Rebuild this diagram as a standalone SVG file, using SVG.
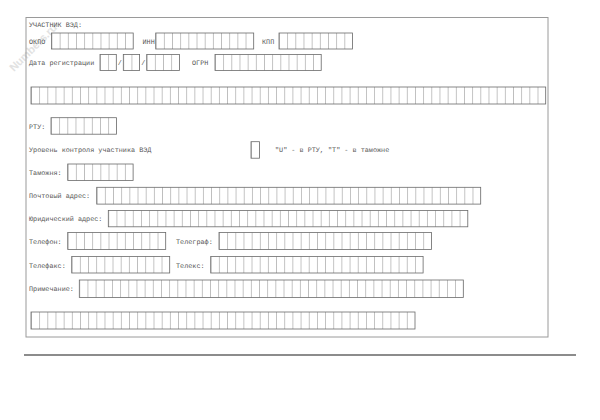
<svg xmlns="http://www.w3.org/2000/svg" width="600" height="420" viewBox="0 0 600 420">
<style>
text{font-family:"Liberation Mono","DejaVu Sans Mono",monospace;font-size:6.8px;fill:#555;text-rendering:geometricPrecision}
.cells{fill:url(#grid);stroke:#6a6a6a;stroke-width:0.8}
.frame{fill:none;stroke:#9a9a9a;stroke-width:1}
.rule{stroke:#666;stroke-width:1.3}
.wm{font-family:"Liberation Sans",Arial,sans-serif;font-size:11px;font-weight:bold;fill:#e2e2e2}
</style>
<defs>
<pattern id="grid" patternUnits="userSpaceOnUse" width="8.17" height="40">
<rect x="0" y="0" width="8.17" height="40" fill="#fff"/>
<rect x="-0.4" y="0" width="0.8" height="40" fill="#6a6a6a"/>
</pattern>
</defs>
<rect width="600" height="420" fill="#fff"/>
<text class="wm" transform="translate(14,72) rotate(-45)">Numbers.ru</text>
<rect class="frame" x="26" y="17.5" width="522" height="319.5"/>
<line class="rule" x1="24" y1="355" x2="576" y2="355"/>

<g id="header"><text x="29" y="27">УЧАСТНИК ВЭД:</text></g>

<g id="okpo"><text x="29" y="43.5">ОКПО</text>
<rect class="cells" x="0" y="0" width="81.7" height="16" transform="translate(51.5,33)"/></g>
<g id="inn"><text x="142.5" y="43.5">ИНН</text>
<rect class="cells" x="0" y="0" width="98" height="16" transform="translate(155.7,33)"/></g>
<g id="kpp"><text x="262" y="43.5">КПП</text>
<rect class="cells" x="0" y="0" width="73.5" height="16" transform="translate(279,33)"/></g>

<g id="regdate"><text x="29" y="65">Дата регистрации</text>
<rect class="cells" x="0" y="0" width="16.3" height="16" transform="translate(100,54.5)"/>
<text x="117.7" y="65">/</text>
<rect class="cells" x="0" y="0" width="16.3" height="16" transform="translate(123.3,54.5)"/>
<text x="141.2" y="65">/</text>
<rect class="cells" x="0" y="0" width="32.7" height="16" transform="translate(146.7,54.5)"/></g>
<g id="ogrn"><text x="192" y="65">ОГРН</text>
<rect class="cells" x="0" y="0" width="106.2" height="16" transform="translate(215,54.5)"/></g>

<g id="name"><rect class="cells" x="0" y="0" width="514.7" height="17" transform="translate(31,87)"/></g>

<g id="rtu"><text x="29" y="128.5">РТУ:</text>
<rect class="cells" x="0" y="0" width="65.4" height="16.5" transform="translate(51,117.7)"/></g>

<g id="level"><text x="29" y="152">Уровень контроля участника ВЭД</text>
<rect class="cells" x="0" y="0" width="8.5" height="16.5" transform="translate(251,141.7)"/>
<text x="275" y="151.5">"U" - в РТУ, "Т" - в таможне</text></g>

<g id="customs"><text x="29" y="174.5">Таможня:</text>
<rect class="cells" x="0" y="0" width="65.4" height="16.5" transform="translate(67.7,164)"/></g>

<g id="postal"><text x="29" y="198">Почтовый адрес:</text>
<rect class="cells" x="0" y="0" width="384" height="16.8" transform="translate(96.7,187.3)"/></g>

<g id="legal"><text x="29" y="221">Юридический адрес:</text>
<rect class="cells" x="0" y="0" width="359.5" height="16.3" transform="translate(108.3,210.5)"/></g>

<g id="phone"><text x="29" y="244">Телефон:</text>
<rect class="cells" x="0" y="0" width="98" height="17" transform="translate(67.7,232.5)"/></g>
<g id="telegraph"><text x="176" y="244">Телеграф:</text>
<rect class="cells" x="0" y="0" width="212.4" height="17" transform="translate(219,232.5)"/></g>

<g id="fax"><text x="29" y="267.5">Телефакс:</text>
<rect class="cells" x="0" y="0" width="98" height="16.5" transform="translate(71.7,256.5)"/></g>
<g id="telex"><text x="176" y="267.5">Телекс:</text>
<rect class="cells" x="0" y="0" width="212.4" height="16.5" transform="translate(210.7,256.5)"/></g>

<g id="note"><text x="29" y="291">Примечание:</text>
<rect class="cells" x="0" y="0" width="384" height="17.5" transform="translate(79.3,280)"/></g>

<g id="note2"><rect class="cells" x="0" y="0" width="384" height="17" transform="translate(31,312)"/></g>
</svg>
